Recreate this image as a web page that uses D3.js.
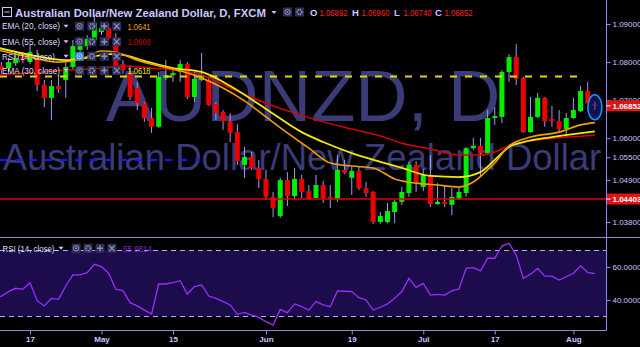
<!DOCTYPE html>
<html>
<head>
<meta charset="utf-8">
<script src="https://cdn.jsdelivr.net/npm/d3@7"></script>
<style>
  html, body { margin: 0; padding: 0; background: #000; overflow: hidden; }
  svg { display: block; }
  text { font-family: "Liberation Sans", Arial, sans-serif; }
</style>
</head>
<body>
<svg id="chart" width="640" height="347"></svg>
<script>
// Daily bars, AUDNZD (FXCM), Apr 10 - Aug 4 2017
const dates = [
  "2017-04-10","2017-04-11","2017-04-12","2017-04-13","2017-04-14",
  "2017-04-17","2017-04-18","2017-04-19","2017-04-20","2017-04-21",
  "2017-04-24","2017-04-25","2017-04-26","2017-04-27","2017-04-28",
  "2017-05-01","2017-05-02","2017-05-03","2017-05-04","2017-05-05",
  "2017-05-08","2017-05-09","2017-05-10","2017-05-11","2017-05-12",
  "2017-05-15","2017-05-16","2017-05-17","2017-05-18","2017-05-19",
  "2017-05-22","2017-05-23","2017-05-24","2017-05-25","2017-05-26",
  "2017-05-29","2017-05-30","2017-05-31","2017-06-01","2017-06-02",
  "2017-06-05","2017-06-06","2017-06-07","2017-06-08","2017-06-09",
  "2017-06-12","2017-06-13","2017-06-14","2017-06-15","2017-06-16",
  "2017-06-19","2017-06-20","2017-06-21","2017-06-22","2017-06-23",
  "2017-06-26","2017-06-27","2017-06-28","2017-06-29","2017-06-30",
  "2017-07-03","2017-07-04","2017-07-05","2017-07-06","2017-07-07",
  "2017-07-10","2017-07-11","2017-07-12","2017-07-13","2017-07-14",
  "2017-07-17","2017-07-18","2017-07-19","2017-07-20","2017-07-21",
  "2017-07-24","2017-07-25","2017-07-26","2017-07-27","2017-07-28",
  "2017-07-31","2017-08-01","2017-08-02","2017-08-03","2017-08-04"
];

const open = [
  1.0800,1.0790,1.0784,1.0797,1.0813, 1.0800,1.0808,1.0740,1.0706,1.0737,
  1.0753,1.0787,1.0832,1.0842,1.0858, 1.0879,1.0890,1.0863,1.0795,1.0771,
  1.0732,1.0692,1.0653,1.0630,1.0758, 1.0766,1.0774,1.0795,1.0708,1.0753,
  1.0753,1.0690,1.0669,1.0645,1.0616, 1.0530,1.0551,1.0522,1.0493,1.0446,
  1.0396,1.0490,1.0448,1.0493,1.0461, 1.0443,1.0477,1.0446,1.0440,1.0517,
  1.0496,1.0514,1.0469,1.0459,1.0380, 1.0380,1.0406,1.0433,1.0456,1.0530,
  1.0472,1.0504,1.0427,1.0433,1.0425, 1.0440,1.0456,1.0574,1.0580,1.0561,
  1.0653,1.0656,1.0774,1.0813,1.0758, 1.0616,1.0656,1.0706,1.0651,1.0645,
  1.0624,1.0653,1.0671,1.0724,1.06892
];
const high = [
  1.0811,1.0800,1.0811,1.0826,1.0826, 1.0845,1.0832,1.0753,1.0753,1.0766,
  1.0800,1.0858,1.0853,1.0871,1.0924, 1.0905,1.0900,1.0876,1.0805,1.0792,
  1.0748,1.0695,1.0679,1.0774,1.0805, 1.0787,1.0805,1.0800,1.0774,1.0824,
  1.0763,1.0695,1.0674,1.0666,1.0637, 1.0577,1.0564,1.0543,1.0517,1.0459,
  1.0496,1.0511,1.0522,1.0504,1.0477, 1.0504,1.0488,1.0477,1.0556,1.0543,
  1.0525,1.0525,1.0485,1.0461,1.0406, 1.0430,1.0438,1.0472,1.0538,1.0540,
  1.0519,1.0556,1.0482,1.0477,1.0469, 1.0472,1.0577,1.0601,1.0601,1.0674,
  1.0682,1.0779,1.0821,1.0847,1.0761, 1.0708,1.0719,1.0708,1.0685,1.0674,
  1.0666,1.0706,1.0737,1.0748,1.06960
];
const low = [
  1.0774,1.0769,1.0774,1.0790,1.0797, 1.0795,1.0724,1.0682,1.0648,1.0719,
  1.0706,1.0779,1.0821,1.0832,1.0853, 1.0871,1.0858,1.0779,1.0769,1.0700,
  1.0674,1.0643,1.0614,1.0627,1.0753, 1.0748,1.0748,1.0703,1.0695,1.0750,
  1.0685,1.0648,1.0622,1.0590,1.0530, 1.0496,1.0517,1.0469,1.0438,1.0393,
  1.0391,1.0422,1.0438,1.0443,1.0438, 1.0443,1.0430,1.0417,1.0433,1.0506,
  1.0451,1.0464,1.0446,1.0375,1.0375, 1.0377,1.0377,1.0425,1.0446,1.0459,
  1.0461,1.0419,1.0425,1.0419,1.0398, 1.0438,1.0446,1.0569,1.0498,1.0556,
  1.0635,1.0640,1.0748,1.0740,1.0614, 1.0614,1.0653,1.0630,1.0630,1.0616,
  1.0601,1.0651,1.0669,1.0692,1.06740
];
const close = [
  1.0790,1.0779,1.0800,1.0811,1.0805, 1.0826,1.0740,1.0706,1.0737,1.0729,
  1.0787,1.0842,1.0845,1.0861,1.0903, 1.0890,1.0863,1.0790,1.0779,1.0708,
  1.0692,1.0653,1.0630,1.0761,1.0766, 1.0771,1.0795,1.0708,1.0756,1.0766,
  1.0687,1.0666,1.0645,1.0614,1.0540, 1.0551,1.0522,1.0493,1.0446,1.0417,
  1.0490,1.0448,1.0493,1.0459,1.0440, 1.0477,1.0443,1.0443,1.0517,1.0509,
  1.0514,1.0469,1.0456,1.0380,1.0396, 1.0409,1.0433,1.0459,1.0530,1.0485,
  1.0504,1.0427,1.0433,1.0427,1.0446, 1.0459,1.0574,1.0580,1.0561,1.0653,
  1.0658,1.0774,1.0813,1.0756,1.0616, 1.0656,1.0706,1.0645,1.0645,1.0624,
  1.0653,1.0674,1.0724,1.0692,1.06852
];

// EMA readings: [bar index, value]
const ema20 = [[0,1.0834],[5,1.0813],[9,1.0800],[12,1.0807],[15,1.0829],[17,1.0826],[20,1.0805],
  [23,1.0790],[26,1.0777],[29,1.0758],[32,1.0732],[35,1.0698],[38,1.0656],[41,1.0614],[44,1.0574],
  [47,1.0535],[50,1.0527],[53,1.0522],[56,1.0493],[59,1.0482],[62,1.0477],[65,1.0472],[67,1.0485],
  [69,1.0517],[70,1.0535],[72,1.0580],[75,1.0603],[79,1.0616],[82,1.0635],[84,1.0641]];
const ema30 = [[0,1.0840],[5,1.0819],[10,1.0805],[13,1.0811],[16,1.0821],[18,1.0819],[21,1.0803],
  [25,1.0784],[29,1.0774],[33,1.0737],[38,1.0677],[43,1.0616],[46,1.0590],[50,1.0561],[54,1.0538],
  [57,1.0522],[61,1.0501],[65,1.0498],[68,1.0511],[70,1.0543],[72,1.0577],[74,1.0590],[78,1.0603],
  [81,1.0611],[84,1.0618]];
const ema55 = [[0,1.0766],[5,1.0771],[10,1.0779],[15,1.0784],[18,1.0790],[22,1.0784],[26,1.0777],
  [29,1.0766],[33,1.0732],[38,1.0692],[42,1.0666],[46,1.0643],[50,1.0624],[54,1.0606],[57,1.0587],
  [61,1.0572],[65,1.0556],[68,1.0556],[70,1.0564],[72,1.0580],[75,1.0593],[79,1.0601],[84,1.0608]];

const rsi = [
  41.0,42.4,45.1,47.1,46.5, 50.5,39.6,36.4,41.0,40.4,
  48.5,55.2,55.2,56.6,61.6, 60.2,56.2,46.5,45.7,38.4,
  36.4,33.9,31.5,49.7,49.7, 50.5,51.7,43.6,48.1,49.1,
  42.4,41.0,39.0,37.0,31.3, 32.5,30.9,29.5,26.9,24.8,
  34.3,32.3,37.6,36.0,33.9, 39.0,37.0,35.9,45.5,45.3,
  45.1,41.4,40.0,33.9,35.6, 37.6,41.0,45.1,53.1,47.7,
  50.1,43.0,43.4,43.0,45.5, 46.7,59.2,59.6,57.6,65.3,
  65.3,72.7,74.3,67.3,53.1, 55.6,59.2,54.5,54.5,52.1,
  54.1,56.2,60.6,56.8,55.9814
];

const timeTicks = ["2017-04-17","2017-05-01","2017-05-15","2017-06-01","2017-06-19","2017-07-03","2017-07-17","2017-08-01"];
const timeLabels = ["17","May","15","Jun","19","Jul","17","Aug"];
const priceTicks = [1.09, 1.08, 1.07, 1.06, 1.055, 1.049, 1.038];
const rsiTicks = [60, 40];
const rsiBand = [70, 30];
const supportLevel = 1.04403;
const yellowLevel = 1.0762;
const blueLevel = 1.0543;

// colours
const C = {
  up: "#00ee00", down: "#ee0000", wick: "#9c9cf0",
  ema20: "#f0a000", ema30: "#f2ea00", ema55: "#d80000",
  axis: "#8a8aff", text: "#c8c8ff", water: "#3b3b78",
  band: "#1d0c4c", rsi: "#9a2dff"
};

const W = 640, H = 347;
const paneR = 606.5, priceB = 237.5, rsiB = 330.5;

const svg = d3.select("#chart");

const x = d3.scalePoint().domain(dates).range([-5.75, 594.85]);
const y = d3.scaleLinear().domain([1.038, 1.09]).range([222, 24]);
const yr = d3.scaleLinear().domain([40, 60]).range([300, 267]);

const defs = svg.append("defs");
defs.append("clipPath").attr("id", "clipPrice")
  .append("rect").attr("x", 0).attr("y", 0).attr("width", paneR).attr("height", priceB);
defs.append("clipPath").attr("id", "clipRsi")
  .append("rect").attr("x", 0).attr("y", priceB).attr("width", paneR).attr("height", rsiB - priceB);

svg.append("rect").attr("width", W).attr("height", H).attr("fill", "#000");

// ---------- price pane ----------
const price = svg.append("g").attr("clip-path", "url(#clipPrice)");

// watermark
price.append("text")
  .attr("x", 303).attr("y", 121).attr("text-anchor", "middle")
  .attr("font-size", 72.5).attr("fill", C.water)
  .text("AUDNZD, D");
price.append("text")
  .attr("x", 302).attr("y", 169.5).attr("text-anchor", "middle")
  .attr("font-size", 36.5).attr("fill", C.water)
  .text("Australian Dollar/New Zealand Dollar");

// candles
const bars = dates.map((d, i) => ({ d, o: open[i], h: high[i], l: low[i], c: close[i] }));
const candle = price.append("g").selectAll("g").data(bars).join("g");
candle.append("line")
  .attr("x1", d => x(d.d)).attr("x2", d => x(d.d))
  .attr("y1", d => y(d.h)).attr("y2", d => y(d.l))
  .attr("stroke", C.wick).attr("stroke-width", 1);
candle.append("rect")
  .attr("x", d => x(d.d) - 2.5).attr("width", 5)
  .attr("y", d => y(Math.max(d.o, d.c)))
  .attr("height", d => Math.max(1.5, Math.abs(y(d.o) - y(d.c))))
  .attr("fill", d => d.c >= d.o ? C.up : C.down);

// horizontal levels
price.append("line")
  .attr("x1", 0).attr("x2", 200).attr("y1", y(blueLevel)).attr("y2", y(blueLevel))
  .attr("stroke", "#1818ff").attr("stroke-width", 2).attr("stroke-dasharray", "7,8");
price.append("line")
  .attr("x1", 0).attr("x2", 580).attr("y1", y(yellowLevel)).attr("y2", y(yellowLevel))
  .attr("stroke", "#e5d800").attr("stroke-width", 2).attr("stroke-dasharray", "7,8");
price.append("line")
  .attr("x1", 0).attr("x2", paneR).attr("y1", y(supportLevel)).attr("y2", y(supportLevel))
  .attr("stroke", "#e00000").attr("stroke-width", 1.5);

// EMAs
const emaLine = d3.line()
  .x(p => x(dates[p[0]]))
  .y(p => y(p[1]))
  .curve(d3.curveMonotoneX);
[[ema55, C.ema55, 1.5], [ema30, C.ema30, 1.8], [ema20, C.ema20, 1.6]].forEach(([data, col, w]) => {
  price.append("path").datum(data)
    .attr("d", emaLine).attr("fill", "none")
    .attr("stroke", col).attr("stroke-width", w);
});

// highlight on last bar
const lastI = dates.length - 1;
price.append("ellipse")
  .attr("cx", x(dates[lastI])).attr("cy", y(close[lastI]) + 1.5)
  .attr("rx", 7).attr("ry", 12.5)
  .attr("fill", "rgba(25,45,170,0.45)")
  .attr("stroke", "#1e90ff").attr("stroke-width", 1.6);

// ---------- RSI pane ----------
const rp = svg.append("g").attr("clip-path", "url(#clipRsi)");
rp.append("rect")
  .attr("x", 0).attr("width", paneR)
  .attr("y", yr(rsiBand[0])).attr("height", yr(rsiBand[1]) - yr(rsiBand[0]))
  .attr("fill", C.band);
rsiBand.forEach(v => {
  rp.append("line")
    .attr("x1", 0).attr("x2", paneR).attr("y1", yr(v)).attr("y2", yr(v))
    .attr("stroke", "#b4a8ff").attr("stroke-width", 1).attr("stroke-dasharray", "5,4");
});
rp.append("path").datum(rsi)
  .attr("d", d3.line().x((v, i) => x(dates[i])).y(v => yr(v)))
  .attr("fill", "none").attr("stroke", C.rsi).attr("stroke-width", 1.3);

// ---------- frame ----------
svg.append("line").attr("x1", 0).attr("x2", W).attr("y1", priceB).attr("y2", priceB)
  .attr("stroke", "#8c8cd0").attr("stroke-width", 1);
svg.append("line").attr("x1", 0).attr("x2", paneR).attr("y1", rsiB).attr("y2", rsiB)
  .attr("stroke", "#8c8cd0").attr("stroke-width", 1);
svg.append("line").attr("x1", paneR).attr("x2", paneR).attr("y1", 0).attr("y2", rsiB)
  .attr("stroke", C.axis).attr("stroke-width", 1);

// ---------- axes ----------
function styleAxis(g, size, weight) {
  g.select(".domain").remove();
  g.selectAll("line").attr("stroke", C.axis);
  g.selectAll("text")
    .attr("fill", C.text).attr("font-size", size).attr("font-weight", weight)
    .attr("font-family", "'Liberation Sans', Arial, sans-serif");
}

svg.append("g").attr("transform", `translate(${paneR},0)`)
  .call(d3.axisRight(y).tickValues(priceTicks).tickFormat(d3.format(".5f")).tickSize(4).tickPadding(2))
  .call(g => styleAxis(g, 8, "normal"));

svg.append("g").attr("transform", `translate(${paneR},0)`)
  .call(d3.axisRight(yr).tickValues(rsiTicks).tickFormat(d3.format(".4f")).tickSize(4).tickPadding(2))
  .call(g => styleAxis(g, 8, "normal"));

svg.append("g").attr("transform", `translate(0,${rsiB})`)
  .call(d3.axisBottom(x).tickValues(timeTicks).tickFormat((d, i) => timeLabels[i]).tickSize(4).tickPadding(2))
  .call(g => styleAxis(g, 8, "bold"));

// price tags
[close[lastI], supportLevel].forEach(v => {
  const g = svg.append("g");
  g.append("rect").attr("x", paneR + 0.5).attr("y", y(v) - 5.5)
    .attr("width", W - paneR).attr("height", 11).attr("fill", "#e01414");
  g.append("line").attr("x1", paneR).attr("x2", paneR + 4).attr("y1", y(v)).attr("y2", y(v))
    .attr("stroke", "#fff");
  g.append("text").attr("x", 612.5).attr("y", y(v) + 3)
    .attr("font-size", 8).attr("font-weight", "bold").attr("fill", "#fff")
    .text(d3.format(".5f")(v));
});

// ---------- legend ----------
const lg = svg.append("g");

function icon(x0, y0, kind, active) {
  const s = 9, cx = x0 + s / 2, cy = y0 + s / 2;
  const c = active ? "#d8e8ff" : "#8f8fc4";
  lg.append("rect").attr("x", x0).attr("y", y0).attr("width", s).attr("height", s)
    .attr("fill", active ? "#2a7de1" : "#32325c").attr("opacity", 0.92);
  if (kind === "eye") {
    lg.append("circle").attr("cx", cx).attr("cy", cy).attr("r", 2.7)
      .attr("fill", "none").attr("stroke", c).attr("stroke-width", 1);
    lg.append("circle").attr("cx", cx).attr("cy", cy).attr("r", 1).attr("fill", c);
  } else if (kind === "gear") {
    lg.append("circle").attr("cx", cx).attr("cy", cy).attr("r", 2.4)
      .attr("fill", "none").attr("stroke", c).attr("stroke-width", 1.6)
      .attr("stroke-dasharray", "1.3,0.8");
  } else if (kind === "plus") {
    lg.append("path").attr("d", `M${cx - 3},${cy}h6M${cx},${cy - 3}v6`)
      .attr("stroke", c).attr("stroke-width", 1.4);
  } else {
    lg.append("path").attr("d", `M${cx - 2.8},${cy - 2.8}l5.6,5.6M${cx + 2.8},${cy - 2.8}l-5.6,5.6`)
      .attr("stroke", c).attr("stroke-width", 1.2);
  }
}
function caret(x0, cy) {
  lg.append("path").attr("d", `M${x0},${cy - 1.5}h5l-2.5,3z`).attr("fill", C.text);
}

// title row
lg.append("rect").attr("x", 2.5).attr("y", 7.5).attr("width", 9).attr("height", 9)
  .attr("fill", "none").attr("stroke", C.text);
lg.append("line").attr("x1", 4.5).attr("x2", 9.5).attr("y1", 12).attr("y2", 12).attr("stroke", C.text);
lg.append("text").attr("x", 15).attr("y", 16.5)
  .attr("font-size", 11.5).attr("font-weight", "bold").attr("fill", C.text)
  .attr("textLength", 251).attr("lengthAdjust", "spacingAndGlyphs")
  .text("Australian Dollar/New Zealand Dollar, D, FXCM");
caret(271.5, 12.5);
icon(283, 7.5, "eye"); icon(295, 7.5, "gear");

const ohlc = [["O", open[lastI], 310], ["H", high[lastI], 352], ["L", low[lastI], 394], ["C", close[lastI], 435]];
ohlc.forEach(([k, v, x0]) => {
  lg.append("text").attr("x", x0).attr("y", 16).attr("font-size", 9.5)
    .attr("font-weight", "bold").attr("fill", C.text).text(k);
  lg.append("text").attr("x", x0 + 9.5).attr("y", 16).attr("font-size", 9.5)
    .attr("fill", "#ff2020").attr("textLength", 28).attr("lengthAdjust", "spacingAndGlyphs")
    .text(d3.format(".5f")(v));
});

// study rows
const studyRows = [
  { label: "EMA (20, close)", value: ema20[ema20.length - 1][1].toFixed(4), color: C.ema20, cy: 26.2 },
  { label: "EMA (55, close)", value: ema55[ema55.length - 1][1].toFixed(4), color: "#cc0000", cy: 41.7 },
  { label: "RSI (14, close)", value: null, color: null, cy: 56.3, active: true },
  { label: "EMA (30, close)", value: ema30[ema30.length - 1][1].toFixed(4), color: "#e8e800", cy: 70.5 }
];
studyRows.forEach(r => {
  lg.append("text").attr("x", 2).attr("y", r.cy + 3.2).attr("font-size", 9)
    .attr("fill", "#dcdcff").attr("textLength", r.label.startsWith("RSI") ? 53 : 58)
    .attr("lengthAdjust", "spacingAndGlyphs").text(r.label);
  caret(63.5, r.cy);
  ["eye", "gear", "plus", "close"].forEach((k, j) => icon(75 + j * 12.4, r.cy - 4.5, k, r.active && j === 0));
  if (r.value) {
    lg.append("text").attr("x", 127.5).attr("y", r.cy + 3.3).attr("font-size", 9.5)
      .attr("fill", r.color).attr("textLength", 23).attr("lengthAdjust", "spacingAndGlyphs")
      .text(r.value);
  }
});

// RSI legend
const rsiY = 248.3;
lg.append("text").attr("x", 2.5).attr("y", rsiY + 3.2).attr("font-size", 9)
  .attr("fill", "#dcdcff").attr("textLength", 52).attr("lengthAdjust", "spacingAndGlyphs")
  .text("RSI (14, close)");
caret(58.5, rsiY);
["eye", "gear", "plus", "close"].forEach((k, j) => icon(71.7 + j * 11.9, rsiY - 4.5, k, false));
lg.append("text").attr("x", 123).attr("y", rsiY + 3.3).attr("font-size", 9.5)
  .attr("fill", "#7a2fd6").attr("textLength", 29).attr("lengthAdjust", "spacingAndGlyphs")
  .text(d3.format(".4f")(rsi[lastI]));
</script>
</body>
</html>
